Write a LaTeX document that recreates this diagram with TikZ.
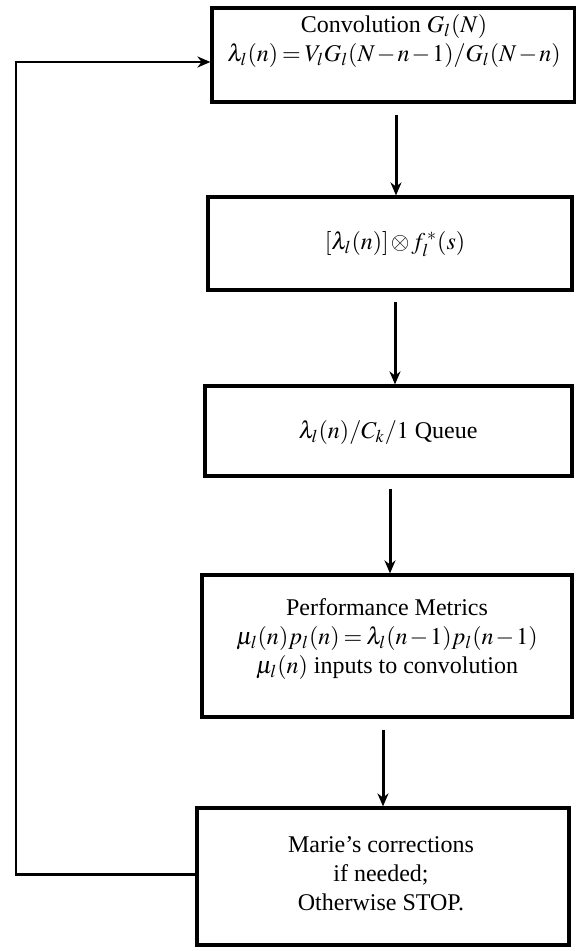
\documentclass[tikz,border=0pt]{standalone}
\usepackage{mathptmx}
\usepackage{fontspec}
\setmainfont{Liberation Serif}
\usetikzlibrary{arrows.meta,calc}
\AtBeginDocument{\thickmuskip=3mu\relax\medmuskip=1.5mu\relax}
\tikzset{
  box/.style={draw, line width=1.6pt, rectangle, inner sep=0pt},
  lbl/.style={inner sep=0pt, font=\fontsize{12}{14.5}\selectfont, align=center},
  arr/.style={line width=1.5pt, -{Stealth[length=6.5pt,width=5.5pt]}},
  loopline/.style={line width=1.4pt, -{Stealth[length=6.5pt,width=5.5pt]}}
}
\begin{document}
\begin{tikzpicture}[x=0.5pt,y=-0.5pt]
\useasboundingbox (0,0) rectangle (576,951);
% boxes
\node[box, minimum width=181.5pt, minimum height=47pt] (box1) at (393.5,55) {};
\node[box, minimum width=182pt, minimum height=46.5pt] (box2) at (390,243.5) {};
\node[box, minimum width=183.5pt, minimum height=45pt] (box3) at (388.5,431) {};
\node[box, minimum width=185pt, minimum height=71pt] (box4) at (387,646) {};
\node[box, minimum width=186pt, minimum height=68.5pt] (box5) at (383,876.5) {};
% texts
\node[lbl] (t1) at (394,41) {Convolution $G_l(N)$\\ $\lambda_l(n) = V_lG_l(N-n-1)/G_l(N-n)$};
\node[lbl] (t2) at (395,244) {$[\lambda_l(n)] \otimes f_l^{\,*}(s)$};
\node[lbl] (t3) at (388,432) {$\lambda_l(n)/C_k/1$ Queue};
\node[lbl] (t4) at (387,639) {Performance Metrics\\ $\mu_l(n)p_l(n) = \lambda_l(n-1)p_l(n-1)$\\ $\mu_l(n)$ inputs to convolution};
\node[lbl] (t5) at (381,874) {Marie's corrections\\ if needed;\\ Otherwise STOP.};
% connector helpers
\coordinate (x12) at (396,0);
\coordinate (x23) at (395,0);
\coordinate (x34) at (390,0);
\coordinate (x45) at (383,0);
\coordinate (lc) at (16,0);
\draw[arr] ($(box1.south -| x12)+(0,11)$) -- (box2.north -| x12);
\draw[arr] ($(box2.south -| x23)+(0,10)$) -- (box3.north -| x23);
\draw[arr] ($(box3.south -| x34)+(0,11)$) -- (box4.north -| x34);
\draw[arr] ($(box4.south -| x45)+(0,11)$) -- (box5.north -| x45);
% feedback loop
\coordinate (l1) at ($(box1.west)+(0,7)$);
\coordinate (l5) at ($(box5.west)+(0,-2)$);
\draw[loopline] (l5) -- (l5 -| lc) -- (lc |- l1) -- (l1);
\end{tikzpicture}
\end{document}
